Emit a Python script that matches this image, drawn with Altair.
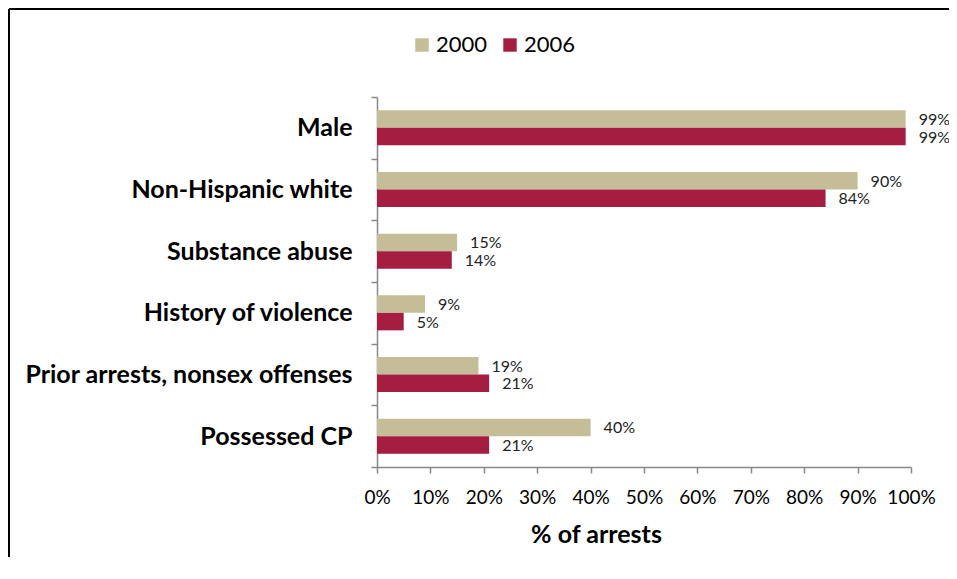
import altair as alt
import pandas as pd

categories = ["Male", "Non-Hispanic white", "Substance abuse", "History of violence",
              "Prior arrests, nonsex offenses", "Possessed CP"]
years = ["2000", "2006"]
v2000 = [99, 90, 15, 9, 19, 40]
v2006 = [99, 84, 14, 5, 21, 21]
x_ticks = [0, 10, 20, 30, 40, 50, 60, 70, 80, 90, 100]
colors = ["#C4BD97", "#A61D42"]

rows = []
for c, a, b in zip(categories, v2000, v2006):
    rows.append({"category": c, "year": years[0], "value": a})
    rows.append({"category": c, "year": years[1], "value": b})
df = pd.DataFrame(rows)

FONT = "Lato"

y_enc = alt.Y("category:N", sort=categories,
              scale=alt.Scale(paddingInner=0, paddingOuter=0),
              axis=alt.Axis(title=None, tickBand="extent", tickSize=6, labelPadding=19,
                            labelFont=FONT, labelFontWeight="bold", labelFontSize=25,
                            labelColor="black", domainColor="#888888", tickColor="#888888",
                            domainWidth=1.5, tickWidth=1.5, labelLimit=400))
yoff = alt.YOffset("year:N", sort=years, scale=alt.Scale(paddingOuter=0.76, paddingInner=0))

x_enc = alt.X("value:Q", scale=alt.Scale(domain=[0, 100], nice=False),
              axis=alt.Axis(values=x_ticks, labelExpr="datum.value + '%'", grid=False,
                            labelOverlap=False, labelFlush=False,
                            tickSize=6, labelPadding=15, labelFont=FONT, labelFontSize=19,
                            labelColor="black", domainColor="#888888", tickColor="#888888",
                            domainWidth=1.5, tickWidth=1.5,
                            title="% of arrests", titleFont=FONT, titleFontSize=25,
                            titleFontWeight="bold", titleColor="black",
                            titleX=219, titleY=75, titleAlign="center",
                            titleBaseline="alphabetic", titleAnchor="start"))

base = alt.Chart(df).encode(y=y_enc, yOffset=yoff)

bars = base.mark_bar(size=17.5).encode(
    x=x_enc,
    color=alt.Color("year:N", sort=years,
                    scale=alt.Scale(domain=years, range=colors),
                    legend=alt.Legend(title=None, orient="none", legendX=34, legendY=-63,
                                      direction="horizontal", symbolType="square",
                                      symbolSize=180, symbolStrokeWidth=0,
                                      labelFont=FONT, labelFontSize=22, labelColor="black",
                                      labelOffset=3, columnPadding=11)),
)

labels = base.mark_text(align="left", baseline="middle", dx=13, dy=1,
                        font=FONT, fontSize=16, color="#222222").transform_calculate(
    label="datum.value + '%'"
).encode(x="value:Q", text="label:N")

one = pd.DataFrame({"f": [0]})
frame_top = alt.Chart(one).mark_rule(color="black", strokeWidth=2).encode(
    x=alt.value(-368), x2=alt.value(2000), y=alt.value(-88))
frame_left = alt.Chart(one).mark_rule(color="black", strokeWidth=2).encode(
    x=alt.value(-368), y=alt.value(-88), y2=alt.value(2000))

chart = alt.layer(frame_top, frame_left, bars, labels).properties(
    width=534, height=370,
    autosize=alt.AutoSizeParams(type="none"),
    padding={"left": 369, "top": 89, "right": 38, "bottom": 90},
).configure_view(stroke=None)

chart.save("out.html", embed_options={"renderer": "svg", "actions": False})
